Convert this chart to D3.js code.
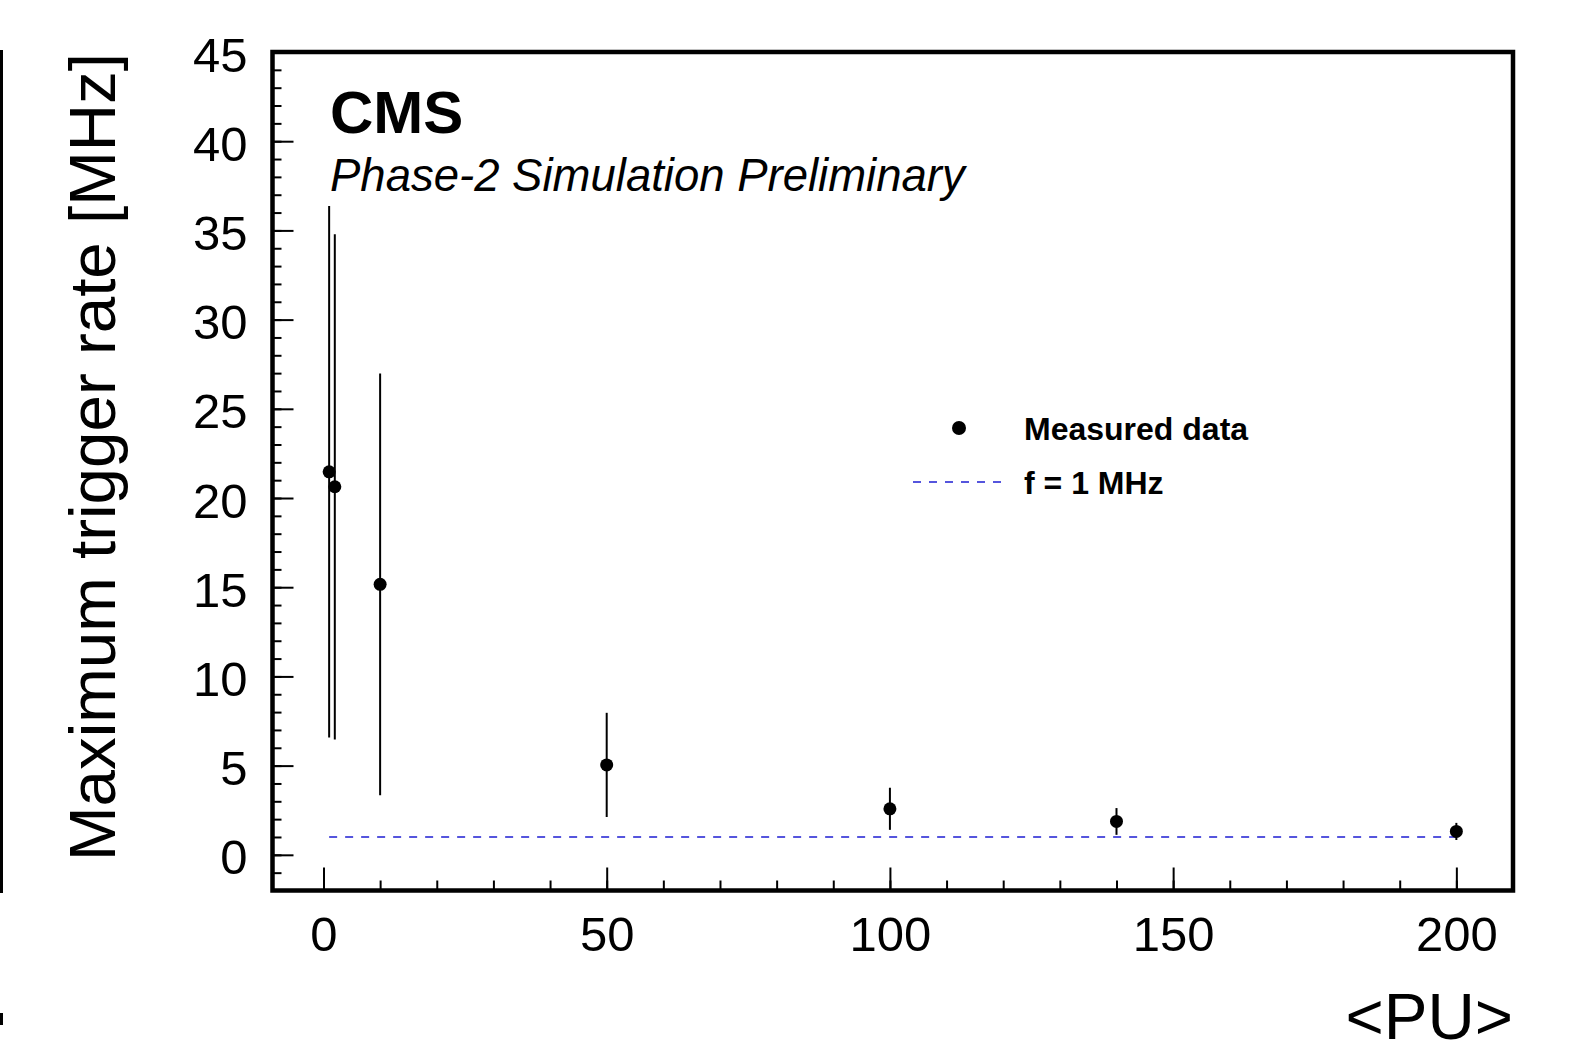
<!DOCTYPE html>
<html>
<head>
<meta charset="utf-8">
<script src="https://cdn.jsdelivr.net/npm/d3@7"></script>
<style>
  html, body { margin: 0; padding: 0; background: #fff; }
  svg { display: block; font-family: "Liberation Sans", Arial, Helvetica, sans-serif; }
</style>
</head>
<body>
<div id="chart"></div>
<script>
// --- Data ---
const pileup = [1, 2, 10, 50, 100, 140, 200];
const rate = [21.47, 20.63, 15.16, 5.04, 2.58, 1.87, 1.31];
const rateErr = [14.9, 14.16, 11.82, 2.92, 1.18, 0.75, 0.48];
const refRate = 1;
const refRange = [1, 200];

const xMajor = [0, 50, 100, 150, 200];
const xMinor = d3.range(0, 211, 10);
const yMajor = [0, 5, 10, 15, 20, 25, 30, 35, 40, 45];
const yMinor = d3.range(-2, 46, 1);

const W = 1578, H = 1042;
const frame = { left: 272.5, right: 1513, top: 52, bottom: 890.5 };

const svg = d3.select('#chart').append('svg')
  .attr('width', W).attr('height', H);

const x = d3.scaleLinear().domain([-9, 210]).range([frame.left, frame.right]);
const y = d3.scaleLinear().domain([-2, 45]).range([frame.bottom, frame.top]);

// remnant of the neighbouring pad on the left edge
svg.append('rect').attr('x', 0).attr('y', 50).attr('width', 3).attr('height', 843).attr('fill', '#000');
svg.append('rect').attr('x', 0).attr('y', 1013).attr('width', 3).attr('height', 12).attr('fill', '#000');

// --- Axes ---
const fontTick = 49;

svg.append('g')
  .attr('transform', `translate(${frame.left},0)`)
  .call(d3.axisLeft(y).tickValues(yMinor).tickSize(-9).tickFormat(''));
const yAxis = svg.append('g')
  .attr('transform', `translate(${frame.left},0)`)
  .call(d3.axisLeft(y).tickValues(yMajor).tickSize(-21).tickPadding(25).tickFormat(d3.format('d')));

svg.append('g')
  .attr('transform', `translate(0,${frame.bottom})`)
  .call(d3.axisBottom(x).tickValues(xMinor).tickSize(-10).tickFormat(''));
svg.append('g')
  .attr('transform', `translate(0,${frame.bottom})`)
  .call(d3.axisBottom(x).tickValues(xMajor).tickSize(-23).tickPadding(26).tickFormat(d3.format('d')));

svg.selectAll('.domain').remove();
svg.selectAll('.tick line').attr('stroke', '#000').attr('stroke-width', 2);
svg.selectAll('.tick text')
  .attr('fill', '#000')
  .style('font-family', '"Liberation Sans", Arial, Helvetica, sans-serif')
  .style('font-size', fontTick + 'px');
yAxis.selectAll('.tick text').attr('dy', '0.39em');

// --- Frame ---
svg.append('rect')
  .attr('x', frame.left).attr('y', frame.top)
  .attr('width', frame.right - frame.left)
  .attr('height', frame.bottom - frame.top)
  .attr('fill', 'none').attr('stroke', '#000').attr('stroke-width', 4.5);

// --- Reference line f = 1 MHz ---
svg.append('line')
  .attr('x1', x(refRange[0])).attr('x2', x(refRange[1]))
  .attr('y1', y(refRate)).attr('y2', y(refRate))
  .attr('stroke', '#5555dd').attr('stroke-width', 2)
  .attr('stroke-dasharray', '8,8');

// --- Measured data with error bars ---
const pts = pileup.map((p, i) => ({ x: p, y: rate[i], e: rateErr[i] }));

svg.append('g').selectAll('line').data(pts).join('line')
  .attr('x1', d => x(d.x)).attr('x2', d => x(d.x))
  .attr('y1', d => y(d.y - d.e)).attr('y2', d => y(d.y + d.e))
  .attr('stroke', '#000').attr('stroke-width', 2);

svg.append('g').selectAll('circle').data(pts).join('circle')
  .attr('cx', d => x(d.x)).attr('cy', d => y(d.y))
  .attr('r', 6.5).attr('fill', '#000');

// --- Titles ---
svg.append('text')
  .attr('transform', 'translate(115,53) rotate(-90)')
  .attr('text-anchor', 'end')
  .style('font-size', '65.5px')
  .text('Maximum trigger rate [MHz]');

svg.append('text')
  .attr('x', frame.right).attr('y', 1039)
  .attr('text-anchor', 'end')
  .style('font-size', '65.5px')
  .text('<PU>');

svg.append('text')
  .attr('x', 330).attr('y', 133)
  .style('font-size', '60px').style('font-weight', 'bold')
  .text('CMS');

svg.append('text')
  .attr('x', 330).attr('y', 191)
  .style('font-size', '45.5px').style('font-style', 'italic')
  .text('Phase-2 Simulation Preliminary');

// --- Legend ---
const legend = svg.append('g');
legend.append('circle').attr('cx', 959).attr('cy', 428).attr('r', 7).attr('fill', '#000');
legend.append('text')
  .attr('x', 1024).attr('y', 440)
  .style('font-size', '32px').style('font-weight', 'bold')
  .text('Measured data');
legend.append('line')
  .attr('x1', 913).attr('x2', 1001).attr('y1', 482).attr('y2', 482)
  .attr('stroke', '#5555dd').attr('stroke-width', 2)
  .attr('stroke-dasharray', '8,8');
legend.append('text')
  .attr('x', 1024).attr('y', 494)
  .style('font-size', '32px').style('font-weight', 'bold')
  .text('f = 1 MHz');
</script>
</body>
</html>
